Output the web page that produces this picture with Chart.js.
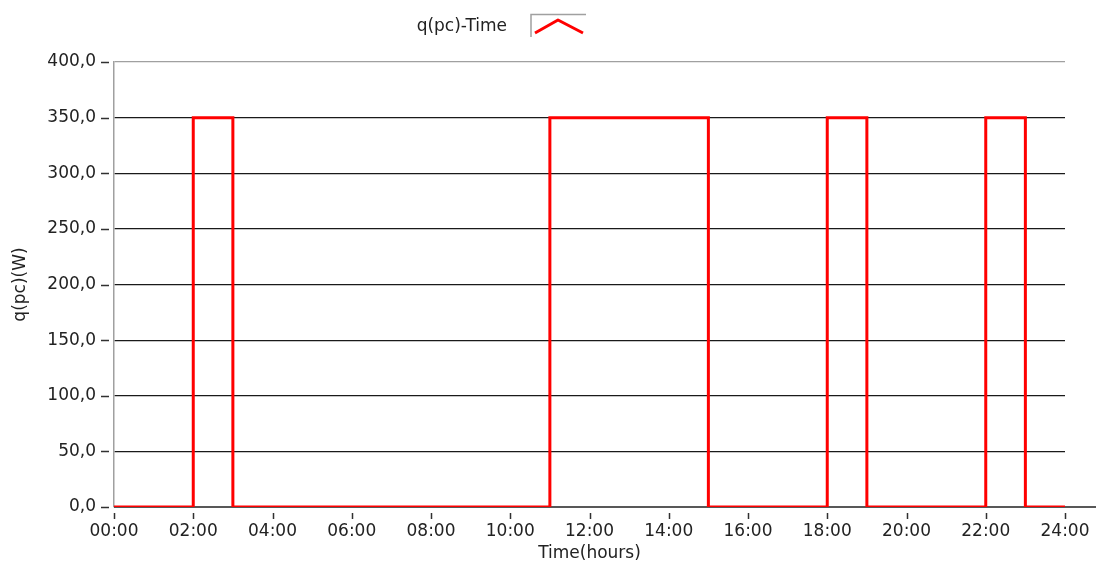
<!DOCTYPE html>
<html>
<head>
<meta charset="utf-8">
<script src="https://cdn.jsdelivr.net/npm/chart.js@4"></script>
<style>
  html, body { margin: 0; padding: 0; background: #fff; }
  #wrap { width: 1096px; height: 565px; }
</style>
</head>
<body>
<div id="wrap"><canvas id="c" width="1096" height="565"></canvas></div>
<script>
// Heat-pump power draw over one day (hours since midnight -> watts)
const hours = [0, 2, 3, 11, 15, 18, 19, 22, 23, 24];
const power = [0, 350, 0, 350, 0, 350, 0, 350, 0, 0];
const timeLabels = ['00:00', '02:00', '04:00', '06:00', '08:00', '10:00', '12:00',
                    '14:00', '16:00', '18:00', '20:00', '22:00', '24:00'];
const seriesName = 'q(pc)-Time';

const FONT = 'DejaVu Sans';
const TEXT = '#222';
const FSIZE = 17;

// Short detached tick marks, dark baseline and the legend swatch
const decorations = {
  id: 'decorations',
  beforeDatasetsDraw(chart) {
    const { ctx, chartArea, scales } = chart;
    ctx.save();
    ctx.strokeStyle = '#202020';
    ctx.lineWidth = 1.5;
    ctx.beginPath();
    ctx.moveTo(chartArea.left, scales.y.getPixelForValue(0));
    ctx.lineTo(chart.width, scales.y.getPixelForValue(0));
    ctx.stroke();

    ctx.strokeStyle = '#303030';
    ctx.lineWidth = 1.5;
    ctx.beginPath();
    scales.y.ticks.forEach(t => {
      const y = Math.round(scales.y.getPixelForValue(t.value)) + 0.5;
      ctx.moveTo(chartArea.left - 13, y);
      ctx.lineTo(chartArea.left - 5, y);
    });
    scales.x.ticks.forEach(t => {
      const x = Math.round(scales.x.getPixelForValue(t.value)) + 0.5;
      ctx.moveTo(x, chartArea.bottom + 6);
      ctx.lineTo(x, chartArea.bottom + 12);
    });
    ctx.stroke();
    ctx.restore();
  },
  afterDraw(chart) {
    const { ctx } = chart;
    ctx.save();
    ctx.font = FSIZE + 'px "' + FONT + '"';
    ctx.fillStyle = TEXT;
    ctx.textAlign = 'right';
    ctx.textBaseline = 'middle';
    ctx.fillText(seriesName, 507, 27);

    ctx.strokeStyle = '#a0a0a0';
    ctx.lineWidth = 1.5;
    ctx.beginPath();
    ctx.moveTo(531, 37);
    ctx.lineTo(531, 14.5);
    ctx.lineTo(586, 14.5);
    ctx.stroke();

    ctx.strokeStyle = '#ff0000';
    ctx.lineWidth = 3;
    ctx.lineJoin = 'round';
    ctx.beginPath();
    ctx.moveTo(535, 33);
    ctx.lineTo(558, 20);
    ctx.lineTo(583, 33);
    ctx.stroke();
    ctx.restore();
  }
};

new Chart(document.getElementById('c'), {
  type: 'line',
  data: {
    datasets: [{
      label: seriesName,
      data: hours.map((h, i) => ({ x: h, y: power[i] })),
      borderColor: '#ff0000',
      borderWidth: 3,
      pointRadius: 0,
      stepped: true,
      fill: false
    }]
  },
  options: {
    responsive: false,
    animation: false,
    events: [],
    layout: { padding: { top: 62, right: 31, left: 0, bottom: 0 } },
    plugins: { legend: { display: false }, tooltip: { enabled: false } },
    scales: {
      x: {
        type: 'linear',
        min: 0,
        max: 24,
        afterFit(scale) {
          scale.height = 58;
          scale.paddingLeft = 0;
          scale.paddingRight = 0;
        },
        border: { display: false },
        grid: { display: false, drawTicks: false },
        ticks: {
          stepSize: 2,
          autoSkip: false,
          maxRotation: 0,
          padding: 14,
          color: TEXT,
          font: { family: FONT, size: FSIZE },
          callback: (v) => timeLabels[Math.round(v / 2)]
        },
        title: {
          display: true,
          text: 'Time(hours)',
          color: TEXT,
          font: { family: FONT, size: FSIZE },
          padding: { top: 1, bottom: 1 }
        }
      },
      y: {
        min: 0,
        max: 400,
        afterFit(scale) {
          scale.width = 114;
          scale.paddingTop = 0;
          scale.paddingBottom = 0;
        },
        border: { display: true, color: '#a0a0a0', width: 1.5 },
        grid: {
          drawTicks: false,
          lineWidth: 1.2,
          color: (c) => (c.tick && c.tick.value === 400) ? '#a0a0a0' : (c.tick && c.tick.value === 0 ? 'rgba(0,0,0,0)' : '#1a1a1a')
        },
        ticks: {
          stepSize: 50,
          padding: 18,
          color: TEXT,
          font: { family: FONT, size: FSIZE },
          callback: (v) => v.toFixed(1).replace('.', ',')
        },
        title: {
          display: true,
          text: 'q(pc)(W)',
          color: TEXT,
          font: { family: FONT, size: FSIZE },
          padding: { top: 10, bottom: 0 }
        }
      }
    }
  },
  plugins: [decorations]
});
</script>
</body>
</html>
